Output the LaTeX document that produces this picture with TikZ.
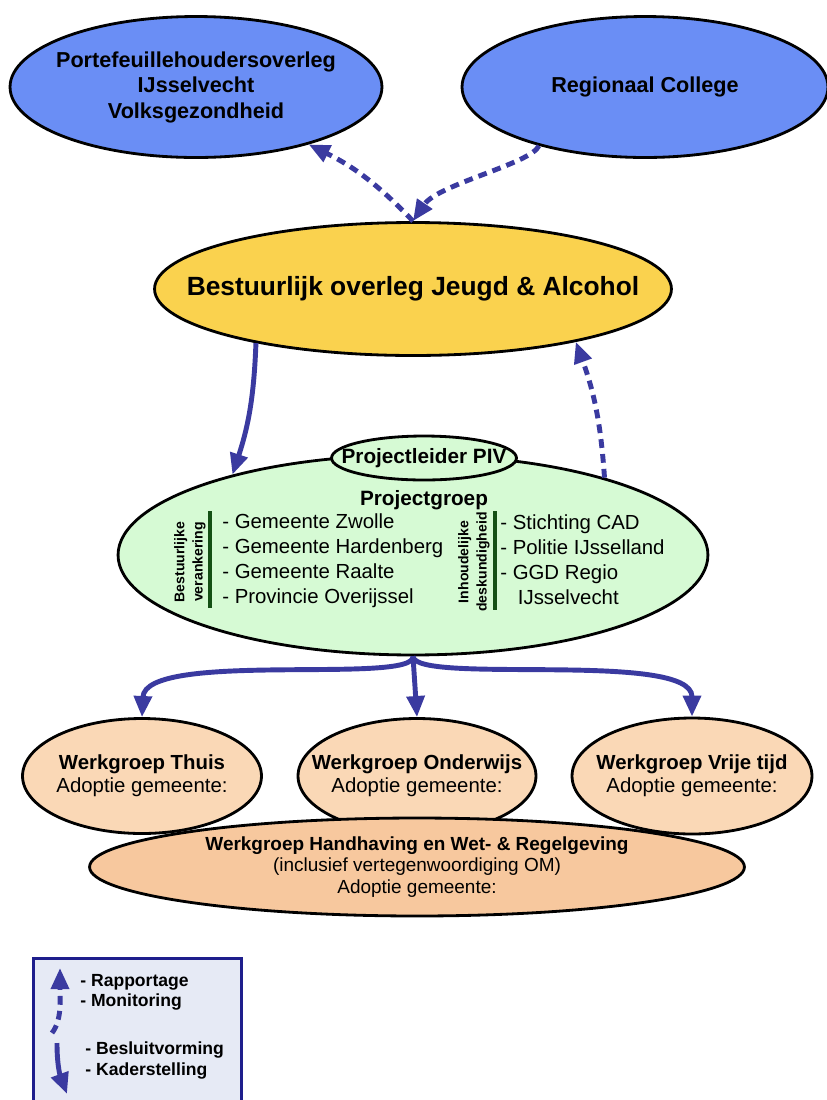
\documentclass[tikz,border=0pt]{standalone}
\usepackage{fontspec}
\setmainfont{Liberation Sans}
\usetikzlibrary{arrows.meta,positioning,shapes.geometric}
\definecolor{topblue}{RGB}{106,142,245}
\definecolor{gold}{RGB}{250,210,78}
\definecolor{mint}{RGB}{214,250,212}
\definecolor{peach}{RGB}{250,216,182}
\definecolor{apricot}{RGB}{247,200,158}
\definecolor{arrowblue}{RGB}{58,58,160}
\definecolor{bargreen}{RGB}{20,80,20}
\definecolor{legendfill}{RGB}{230,234,245}
\definecolor{legendline}{RGB}{30,30,140}
\tikzset{
  >={Triangle[length=12pt,width=10pt]},
  blob/.style = {ellipse, draw=black, line width=1.6pt, inner sep=0pt},
  words/.style = {align=center, inner sep=0pt},
  flow/.style = {->, draw=arrowblue, line width=2.8pt},
  report/.style = {flow, dash pattern=on 5pt off 3.5pt},
  big/.style = {words, font=\fontsize{12.3}{14.5}\selectfont\bfseries},
  mid/.style = {words, font=\fontsize{11.6}{13}\selectfont},
  midbold/.style = {words, font=\fontsize{11.8}{13}\selectfont\bfseries},
  small/.style = {words, font=\fontsize{8}{10.4}\selectfont\bfseries},
  listing/.style = {anchor=west, align=left, inner sep=0pt, font=\fontsize{11.6}{14.2}\selectfont},
  keytext/.style = {anchor=west, align=left, inner sep=0pt, font=\fontsize{10}{11.3}\selectfont\bfseries},
}

\begin{document}
\begin{tikzpicture}[x=0.02cm,y=-0.02cm]
  \useasboundingbox (0,0) rectangle (827,1100);
  % bodies
  \node[blob, fill=topblue, minimum width=7.44cm, minimum height=2.82cm] (porto) at (196,87) {};
  \node[big] (portotxt) at (porto) {Portefeuillehoudersoverleg\\IJsselvecht\\Volksgezondheid};
  \node[blob, fill=topblue, minimum width=7.32cm, minimum height=2.82cm] (regio) at (645,87) {};
  \node[big] (regiotxt) at (regio) {Regionaal College};
  \node[blob, fill=gold, minimum width=10.34cm, minimum height=2.66cm] (bestuur) at (413,289) {};
  \node[words, font=\fontsize{15}{18}\selectfont\bfseries] (bestuurtxt) at (bestuur)
    {Bestuurlijk overleg Jeugd \& Alcohol};
  \node[blob, fill=mint, minimum width=11.8cm, minimum height=4cm] (projgroep) at (413,555) {};
  \node[blob, fill=mint, minimum width=3.7cm, minimum height=0.88cm] (projleider) at (424,458) {};
  \node[midbold] (projleidertxt) at (projleider) {Projectleider PIV};
  \node[midbold] (pgtitle) at (424,500) {Projectgroep};
  \node[small, rotate=90] (bestlbl) at (190,562) {Bestuurlijke\\verankering};
  \node[small, rotate=90] (inhlbl) at (474,562) {Inhoudelijke\\deskundigheid};
  \draw[bargreen, line width=2.3pt] (210,511) -- (210,608);
  \draw[bargreen, line width=2.3pt] (495,511) -- (495,610);
  \node[listing] (leftlist) at (222,561)
    {- Gemeente Zwolle\\- Gemeente Hardenberg\\- Gemeente Raalte\\- Provincie Overijssel};
  \node[listing] (rightlist) at (500,560)
    {- Stichting CAD\\- Politie IJsselland\\- GGD Regio\\\hspace*{10pt}IJsselvecht};
  \node[blob, fill=peach, minimum width=4.78cm, minimum height=2.3cm] (thuis) at (142,776) {};
  \node[mid] (thuistxt) at (thuis) {\textbf{Werkgroep Thuis}\\Adoptie gemeente:};
  \node[blob, fill=peach, minimum width=4.76cm, minimum height=2.3cm] (onderwijs) at (417,776) {};
  \node[mid] (onderwijstxt) at (onderwijs) {\textbf{Werkgroep Onderwijs}\\Adoptie gemeente:};
  \node[blob, fill=peach, minimum width=4.8cm, minimum height=2.32cm] (vrijetijd) at (692,776) {};
  \node[mid] (vrijetijdtxt) at (vrijetijd) {\textbf{Werkgroep Vrije tijd}\\Adoptie gemeente:};
  \node[blob, fill=apricot, minimum width=13.1cm, minimum height=1.96cm] (handhaving) at (417,867) {};
  \node[words, font=\fontsize{10.8}{12.2}\selectfont] (handhavingtxt) at (handhaving)
    {\textbf{Werkgroep Handhaving en Wet- \& Regelgeving}\\(inclusief vertegenwoordiging OM)\\Adoptie gemeente:};
  % arrows
  \draw[report] (bestuur.north) to[bend right=10] (porto.-27);
  \draw[report] (regio.-151) .. controls +(-8,18) and +(25,-37) .. (bestuur.north);
  \draw[flow] (bestuur.-161) to[bend left=8] (projgroep.156);
  \draw[report] (projgroep.22) to[bend right=8] (bestuur.-18);
  \coordinate (split) at (projgroep.south);
  \draw[flow] (split) .. controls (415,685) and (145,650) .. (thuis.north);
  \draw[flow] (split) -- (onderwijs.north);
  \draw[flow] (split) .. controls (415,685) and (692,650) .. (vrijetijd.north);
  % legend
  \node[draw=legendline, fill=legendfill, line width=1.7pt, anchor=north west,
        minimum width=4.16cm, minimum height=3.2cm] (legend) at (32,957) {};
  \coordinate (upfrom) at (52,1033);
  \coordinate (upto) at (60,968);
  \coordinate (downfrom) at (57,1043);
  \coordinate (downto) at (67,1094);
  \draw[report] (upfrom) .. controls (62,1020) and (60,1000) .. (upto);
  \draw[flow] (downfrom) .. controls (57,1065) and (60,1075) .. (downto);
  \node[keytext] (rapport) at (80,992) {- Rapportage\\- Monitoring};
  \node[keytext, font=\fontsize{10}{11.8}\selectfont\bfseries] (besluit) at (85,1060.5)
    {- Besluitvorming\\- Kaderstelling};
\end{tikzpicture}
\end{document}
